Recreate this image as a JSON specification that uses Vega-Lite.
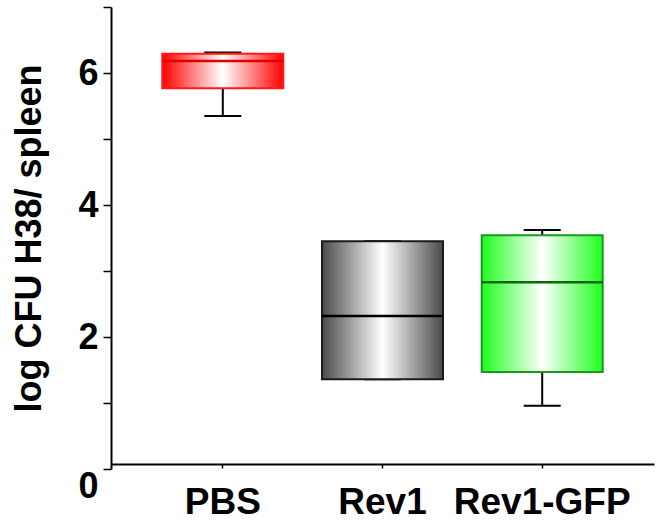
{
  "$schema": "https://vega.github.io/schema/vega-lite/v6.json",
  "autosize": "none",
  "padding": {"left": 111, "top": 7, "right": 5, "bottom": 59},
  "width": 543,
  "height": 462,
  "background": "white",
  "config": {
    "view": {"stroke": null},
    "font": "Liberation Sans"
  },
  "data": {
    "values": [
      {"group": "PBS", "lower": 5.35, "q1": 5.77, "median": 6.18, "q3": 6.29, "upper": 6.31},
      {"group": "Rev1", "lower": 1.36, "q1": 1.36, "median": 2.32, "q3": 3.45, "upper": 3.45},
      {"group": "Rev1-GFP", "lower": 0.96, "q1": 1.47, "median": 2.83, "q3": 3.54, "upper": 3.62}
    ]
  },
  "encoding": {
    "x": {
      "field": "group",
      "type": "nominal",
      "sort": ["PBS", "Rev1", "Rev1-GFP"],
      "scale": {"paddingInner": 0.24, "paddingOuter": 0.32},
      "axis": {
        "title": null,
        "labelAngle": 0,
        "labelFont": "Liberation Sans",
        "labelFontWeight": "bold",
        "labelFontSize": 37,
        "labelColor": "black",
        "labelPadding": 16,
        "tickSize": 4,
        "tickColor": "black",
        "tickWidth": 1.5,
        "domainColor": "black",
        "domainWidth": 2,
        "offset": -5
      }
    }
  },
  "layer": [
    {
      "mark": {"type": "rule", "color": "black", "strokeWidth": 2},
      "encoding": {
        "y": {
          "field": "lower",
          "type": "quantitative",
          "scale": {"domain": [0, 7], "nice": false, "zero": true},
          "axis": {
            "title": "log CFU H38/ spleen",
            "titleFont": "Liberation Sans",
            "titleFontWeight": "bold",
            "titleFontSize": 36,
            "titleColor": "black",
            "titleX": -82,
            "titleBaseline": "middle",
            "values": [0, 1, 2, 3, 4, 5, 6, 7],
            "format": "d",
            "labelExpr": "datum.value % 2 == 0 ? datum.label : ''",
            "labelFont": "Liberation Sans",
            "labelFontWeight": "bold",
            "labelFontSize": 36,
            "labelColor": "black",
            "labelPadding": 5,
            "labelBaseline": {"condition": {"test": "datum.value == 0", "value": "top"}, "value": "middle"},
            "tickSize": 8,
            "tickColor": "black",
            "tickWidth": 1.5,
            "domainColor": "black",
            "domainWidth": 2,
            "grid": false
          }
        },
        "y2": {"field": "q1"}
      }
    },
    {
      "mark": {"type": "rule", "color": "black", "strokeWidth": 2},
      "encoding": {
        "y": {"field": "q3", "type": "quantitative"},
        "y2": {"field": "upper"}
      }
    },
    {
      "mark": {"type": "tick", "color": "black", "size": 37, "thickness": 2, "opacity": 1},
      "encoding": {"y": {"field": "lower", "type": "quantitative"}}
    },
    {
      "mark": {"type": "tick", "color": "black", "size": 37, "thickness": 2, "opacity": 1},
      "encoding": {"y": {"field": "upper", "type": "quantitative"}}
    },
    {
      "transform": [{"filter": "datum.group == 'PBS'"}],
      "mark": {
        "type": "bar",
        "size": 121,
        "fill": {"gradient": "linear", "x1": 0, "x2": 1, "y1": 0, "y2": 0,
          "stops": [{"offset": 0, "color": "#ff0000"}, {"offset": 0.5, "color": "#ffffff"}, {"offset": 1, "color": "#ff0000"}]},
        "stroke": "#ff1a1a",
        "strokeWidth": 2
      },
      "encoding": {
        "y": {"field": "q1", "type": "quantitative"},
        "y2": {"field": "q3"}
      }
    },
    {
      "transform": [{"filter": "datum.group == 'Rev1'"}],
      "mark": {
        "type": "bar",
        "size": 121,
        "fill": {"gradient": "linear", "x1": 0, "x2": 1, "y1": 0, "y2": 0,
          "stops": [{"offset": 0, "color": "#4a4a4a"}, {"offset": 0.5, "color": "#ffffff"}, {"offset": 1, "color": "#4a4a4a"}]},
        "stroke": "#1a1a1a",
        "strokeWidth": 2
      },
      "encoding": {
        "y": {"field": "q1", "type": "quantitative"},
        "y2": {"field": "q3"}
      }
    },
    {
      "transform": [{"filter": "datum.group == 'Rev1-GFP'"}],
      "mark": {
        "type": "bar",
        "size": 121,
        "fill": {"gradient": "linear", "x1": 0, "x2": 1, "y1": 0, "y2": 0,
          "stops": [{"offset": 0, "color": "#1eff1e"}, {"offset": 0.5, "color": "#ffffff"}, {"offset": 1, "color": "#1eff1e"}]},
        "stroke": "#1a9a1a",
        "strokeWidth": 2
      },
      "encoding": {
        "y": {"field": "q1", "type": "quantitative"},
        "y2": {"field": "q3"}
      }
    },
    {
      "mark": {"type": "tick", "size": 121, "thickness": 2.5, "opacity": 1},
      "encoding": {
        "y": {"field": "median", "type": "quantitative"},
        "color": {
          "field": "group",
          "type": "nominal",
          "scale": {"domain": ["PBS", "Rev1", "Rev1-GFP"], "range": ["#e00000", "#000000", "#0a6a0a"]},
          "legend": null
        }
      }
    }
  ]
}
